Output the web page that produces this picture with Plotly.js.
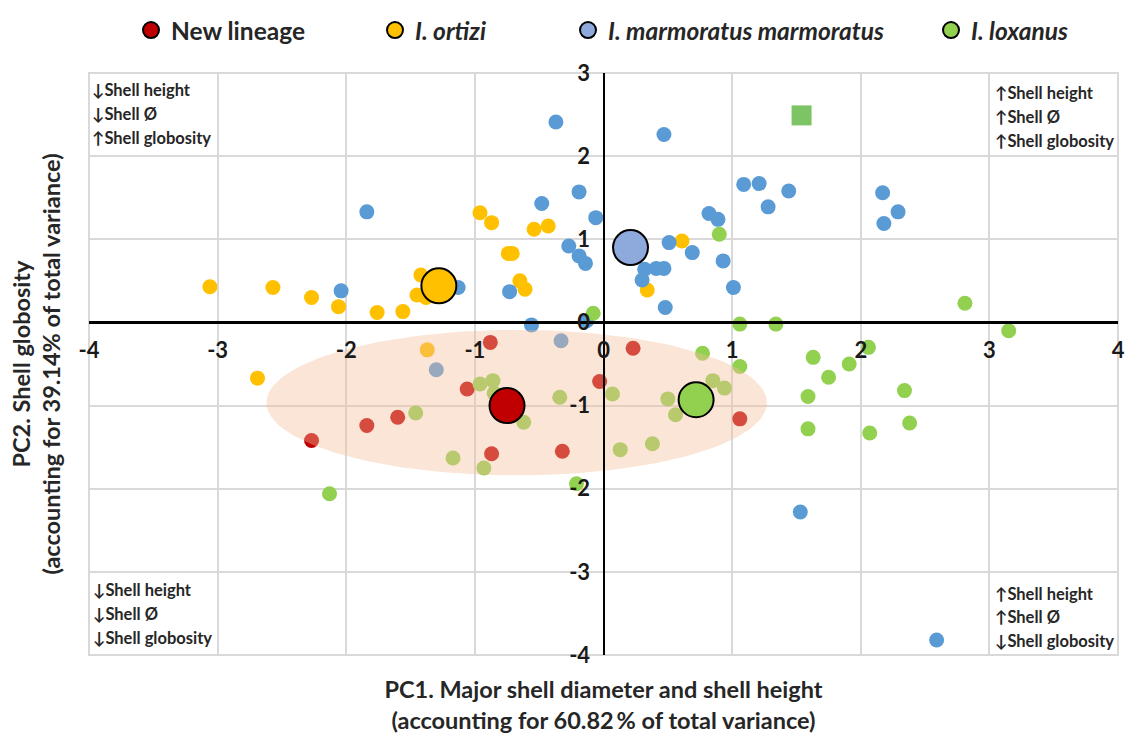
<!DOCTYPE html>
<html>
<head>
<meta charset="utf-8">
<script src="https://cdn.plot.ly/plotly-3.0.1.min.js"></script>
<style>
html, body { margin: 0; padding: 0; background: #ffffff; }
#chart { width: 1126px; height: 734px; }
</style>
</head>
<body>
<div id="chart"></div>
<script>
// ---------------- DATA ----------------
const SPECIES = ['New lineage', 'I. ortizi', 'I. marmoratus marmoratus', 'I. loxanus'];

// New lineage (individual specimens)
const NEW_X = [-0.88, -1.06, -1.60, -1.84, -2.27, -0.87, -0.32, -0.03, 0.23, 1.06];
const NEW_Y = [-0.24, -0.80, -1.14, -1.24, -1.42, -1.58, -1.55, -0.71, -0.31, -1.16];

// I. ortizi
const ORT_X = [-3.06, -2.57, -2.27, -2.06, -1.76, -1.56, -1.42, -1.45, -1.38, -0.96, -0.87,
               -0.54, -0.43, -0.74, -0.71, -0.65, -0.61, 0.61, 0.34, -1.37, -2.69];
const ORT_Y = [0.43, 0.42, 0.30, 0.19, 0.12, 0.13, 0.57, 0.33, 0.30, 1.32, 1.20,
               1.12, 1.16, 0.83, 0.83, 0.50, 0.40, 0.98, 0.39, -0.33, -0.67];

// I. marmoratus marmoratus
const MAR_X = [-0.37, 0.47, -1.84, -0.48, -0.19, -0.06, -0.27, -0.19, -0.14, -2.04, -1.13, -0.73,
               -0.56, -0.13, 0.51, 0.69, 0.32, 0.41, 0.47, 0.30, 0.48, 0.82, 0.89, 0.93, 1.01,
               1.09, 1.21, 1.28, 1.44, 2.17, 2.18, 2.29, 1.53, 2.59, -0.33, -1.30];
const MAR_Y = [2.41, 2.26, 1.33, 1.43, 1.57, 1.26, 0.92, 0.80, 0.71, 0.38, 0.42, 0.37,
               -0.03, 0.02, 0.96, 0.84, 0.64, 0.65, 0.65, 0.51, 0.18, 1.31, 1.24, 0.74, 0.42,
               1.66, 1.67, 1.39, 1.58, 1.56, 1.19, 1.33, -2.28, -3.82, -0.22, -0.57];

// I. loxanus
const LOX_X = [0.90, -0.08, 1.06, 1.34, 2.81, 3.15, 0.77, 1.06, 1.63, 1.91, 2.06, 1.75, 1.59,
               2.34, 1.59, 2.07, 2.38, 0.85, 0.94, 0.50, 0.56, 0.07, 0.13, 0.38, -0.96, -0.86,
               -0.85, -0.62, -1.46, -1.17, -0.93, -0.34, -0.21, -2.13];
const LOX_Y = [1.06, 0.11, -0.02, -0.02, 0.23, -0.10, -0.37, -0.53, -0.42, -0.50, -0.30, -0.66, -0.89,
               -0.82, -1.28, -1.33, -1.21, -0.70, -0.79, -0.92, -1.11, -0.86, -1.53, -1.46, -0.74, -0.70,
               -0.85, -1.20, -1.09, -1.63, -1.75, -0.90, -1.94, -2.06];

// Extra square marker (I. loxanus)
const SQUARE_X = [1.54];
const SQUARE_Y = [2.49];

// Group centroids (order as SPECIES)
const CENTROID_X = [-0.75, -1.28, 0.21, 0.72];
const CENTROID_Y = [-1.00, 0.44, 0.90, -0.93];

// Ellipse around the New lineage group: centre and semi-axes
const ELLIPSE_CENTER = [-0.675, -0.965];
const ELLIPSE_RADII = [1.945, 0.875];

// Ticks
const X_TICKS = [-4, -3, -2, -1, 0, 1, 2, 3, 4];
const X_TICK_TEXT = ['-4', '-3', '-2', '-1', '0', '1', '2', '3', '4'];
const Y_TICKS = [-4, -3, -2, -1, 0, 1, 2, 3];
const Y_TICK_TEXT = ['-4', '-3', '-2', '-1', '0', '1', '2', '3'];

// Axis titles
const X_TITLE = 'PC1. Major shell diameter and shell height<br>(accounting for 60.82\u2009% of total variance)';
const Y_TITLE = 'PC2. Shell globosity<br>(accounting for 39.14% of total variance)';

// Corner texts
const CORNER_TL = ['\u2193Shell height', '\u2193Shell \u00D8', '\u2191Shell globosity'];
const CORNER_TR = ['\u2191Shell height', '\u2191Shell \u00D8', '\u2191Shell globosity'];
const CORNER_BL = ['\u2193Shell height', '\u2193Shell \u00D8', '\u2193Shell globosity'];
const CORNER_BR = ['\u2191Shell height', '\u2191Shell \u00D8', '\u2193Shell globosity'];

// ---------------- STYLE ----------------
const POINT_COLORS = ['#C00000', '#FFC000', '#5B9BD5', '#92D050'];
const CENTROID_COLORS = ['#C00000', '#FFC000', '#8EA9DB', '#92D050'];
const SQUARE_COLOR = '#7CC464';
const ELLIPSE_FILL = 'rgba(245,190,155,0.40)';
const TEXT_COLOR = '#262626';
const FONT = 'Lato, "Open Sans", sans-serif';

// ---------------- TRACES ----------------
const pointSets = [[NEW_X, NEW_Y], [ORT_X, ORT_Y], [MAR_X, MAR_Y], [LOX_X, LOX_Y]];
const traces = [];
pointSets.forEach((p, i) => {
  traces.push({
    type: 'scatter', mode: 'markers', x: p[0], y: p[1],
    name: SPECIES[i], showlegend: false, hoverinfo: 'x+y+name',
    marker: { color: POINT_COLORS[i], size: 15, line: { width: 0 } },
    xaxis: 'x', yaxis: 'y'
  });
});
traces.push({
  type: 'scatter', mode: 'markers', x: SQUARE_X, y: SQUARE_Y,
  name: SPECIES[3], showlegend: false,
  marker: { color: SQUARE_COLOR, size: 20, symbol: 'square', line: { width: 0 } },
  xaxis: 'x', yaxis: 'y'
});

// ellipse outline built from its centre and semi-axes
const ellX = [], ellY = [];
const N = 180;
for (let k = 0; k <= N; k++) {
  const t = 2 * Math.PI * k / N;
  ellX.push(ELLIPSE_CENTER[0] + ELLIPSE_RADII[0] * Math.cos(t));
  ellY.push(ELLIPSE_CENTER[1] + ELLIPSE_RADII[1] * Math.sin(t));
}
traces.push({
  type: 'scatter', mode: 'lines', x: ellX, y: ellY, fill: 'toself',
  fillcolor: ELLIPSE_FILL, line: { width: 0, color: 'rgba(0,0,0,0)' },
  hoverinfo: 'skip', showlegend: false, xaxis: 'x2', yaxis: 'y2'
});

const legendIds = ['legend', 'legend2', 'legend3', 'legend4'];
SPECIES.forEach((s, i) => {
  traces.push({
    type: 'scatter', mode: 'markers',
    x: [CENTROID_X[i]], y: [CENTROID_Y[i]],
    name: s, legend: legendIds[i], showlegend: true,
    marker: { color: CENTROID_COLORS[i], size: 35, line: { color: '#000000', width: 2 } },
    xaxis: 'x2', yaxis: 'y2'
  });
});

// ---------------- LAYOUT ----------------
const PLOT_L = 89, PLOT_R = 1118, PLOT_T = 71, PLOT_B = 655;
const px2paperX = px => (px - PLOT_L) / (PLOT_R - PLOT_L);
const px2paperY = py => (PLOT_B - py) / (PLOT_B - PLOT_T);

const annotations = [];
function addCorner(lines, xPx, yPxs) {
  lines.forEach((txt, i) => {
    annotations.push({
      xref: 'paper', yref: 'paper', x: px2paperX(xPx), y: px2paperY(yPxs[i]),
      xanchor: 'left', yanchor: 'middle', showarrow: false, text: txt,
      font: { family: FONT, size: 16.5, weight: 'bold', color: TEXT_COLOR }
    });
  });
}
addCorner(CORNER_TL, 90, [88, 112, 136]);
addCorner(CORNER_TR, 993, [91, 115, 139]);
addCorner(CORNER_BL, 91, [590, 614, 638]);
addCorner(CORNER_BR, 993, [594, 617, 641]);

const gridAxisBase = {
  showgrid: true, gridcolor: '#D9D9D9', gridwidth: 2, zeroline: false,
  showticklabels: false, ticks: '', showline: false, fixedrange: true
};
const tickFont = { family: FONT, size: 22, weight: 'bold', color: '#1a1a1a' };

function legendAt(px, italic) {
  return {
    x: px2paperX(px), y: px2paperY(28), xanchor: 'left', yanchor: 'middle',
    orientation: 'h', bgcolor: 'rgba(0,0,0,0)', borderwidth: 0,
    font: { family: FONT, size: 24.5, weight: 'bold', style: italic ? 'italic' : 'normal', color: TEXT_COLOR }
  };
}

const layout = {
  width: 1126, height: 734,
  margin: { l: PLOT_L, r: 1126 - PLOT_R, t: PLOT_T, b: 734 - PLOT_B },
  paper_bgcolor: '#ffffff', plot_bgcolor: '#ffffff',
  font: { family: FONT, color: TEXT_COLOR },
  xaxis: Object.assign({}, gridAxisBase, {
    range: [-4, 4], tickmode: 'array', tickvals: X_TICKS,
    title: { text: X_TITLE, font: { family: FONT, size: 23.5, weight: 'bold', color: TEXT_COLOR }, standoff: 28 }
  }),
  yaxis: Object.assign({}, gridAxisBase, {
    range: [-4, 3], tickmode: 'array', tickvals: Y_TICKS,
    title: { text: Y_TITLE, font: { family: FONT, size: 23.5, weight: 'bold', color: TEXT_COLOR }, standoff: 20 }
  }),
  xaxis2: {
    overlaying: 'x', range: [-4, 4], anchor: 'free', position: 4 / 7, side: 'bottom',
    showline: true, linecolor: '#000000', linewidth: 2.5, showgrid: false, zeroline: false,
    tickmode: 'array', tickvals: X_TICKS, ticktext: X_TICK_TEXT, ticks: '',
    tickfont: tickFont, ticklabelstandoff: 8, ticklabeloverflow: 'allow', fixedrange: true
  },
  yaxis2: {
    overlaying: 'y', range: [-4, 3], anchor: 'free', position: 0.5, side: 'left',
    showline: true, linecolor: '#000000', linewidth: 2.5, showgrid: false, zeroline: false,
    tickmode: 'array', tickvals: Y_TICKS, ticktext: Y_TICK_TEXT, ticks: '',
    tickfont: tickFont, ticklabelstandoff: 8, ticklabeloverflow: 'allow', fixedrange: true
  },
  legend: legendAt(131, false),
  legend2: legendAt(375, true),
  legend3: legendAt(568, true),
  legend4: legendAt(931, true),
  shapes: [{
    type: 'rect', xref: 'paper', yref: 'paper', x0: 0, x1: 1, y0: 0, y1: 1,
    line: { color: '#D9D9D9', width: 2 }, layer: 'below'
  }],
  annotations: annotations
};

Plotly.newPlot('chart', traces, layout, { displayModeBar: false, staticPlot: true });
</script>
</body>
</html>
